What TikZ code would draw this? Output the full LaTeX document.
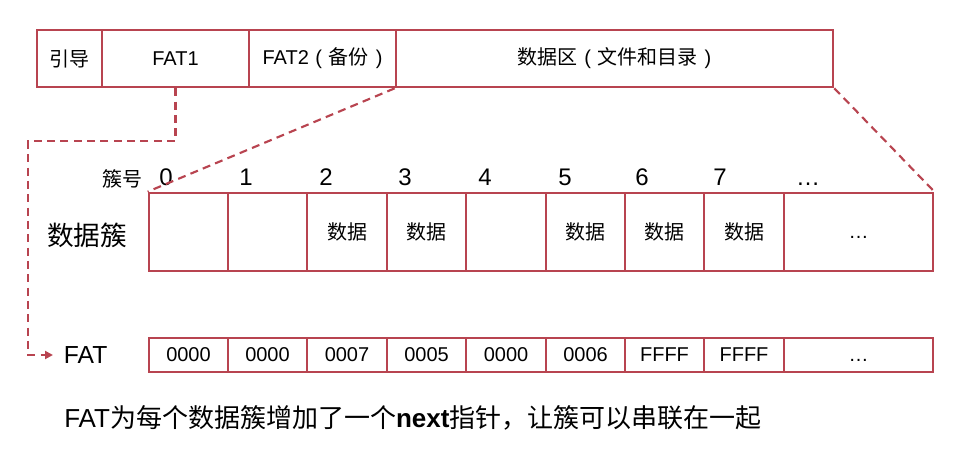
\documentclass[tikz,border=0pt]{standalone}
\usepackage{fontspec}
\setmainfont{Liberation Sans}
\newfontfamily\cjk{Noto Sans CJK SC}
\usetikzlibrary{arrows.meta}
\definecolor{fatred}{HTML}{B84450}
\newcommand{\lp}{\hspace{0.33em}(\hspace{0.34em}}
\newcommand{\rp}{\hspace{0.34em})\hspace{0.33em}}
\newcommand{\dotsx}{\vphantom{0}…}
\begin{document}
\begin{tikzpicture}[x=0.75pt,y=-0.75pt,
  cell/.style={draw=fatred, line width=2pt, inner sep=0pt, font=\fontsize{15}{18}\selectfont},
  box/.style args={#1/#2/#3/#4}{minimum width={(#2-#1)*0.75pt}, minimum height={(#4-#3)*0.75pt}, at={({(#1+#2)/2},{(#3+#4)/2})}},
  dashlink/.style={draw=fatred, line width=1.6pt, dash pattern=on 6pt off 4pt},
  num/.style={anchor=base, inner sep=0pt, font=\fontsize{18}{21}\selectfont}]
\useasboundingbox (0,0) rectangle (970,454);
% top bar
\node[cell, box=37/102/30/87] (boot) {\cjk 引导};
\node[cell, box=102/249/30/87] (fat1) {FAT1};
\node[cell, box=249/396/30/87] (fat2) {FAT2\lp{\cjk 备份}\rp};
\node[cell, box=396/833/30/87] (data) {{\cjk 数据区}\lp{\cjk 文件和目录}\rp};
% cluster numbers
\node[anchor=base, inner sep=0pt, font=\cjk\fontsize{15}{18}\selectfont] (hao) at (122,186) {簇号};
\node[num] (n0) at (166,185) {0};
\node[num] (n1) at (246,185) {1};
\node[num] (n2) at (326,185) {2};
\node[num] (n3) at (405,185) {3};
\node[num] (n4) at (485,185) {4};
\node[num] (n5) at (565,185) {5};
\node[num] (n6) at (642,185) {6};
\node[num] (n7) at (720,185) {7};
\node[num] (n8) at (808,185) {…};
% data clusters
\node[inner sep=0pt, font=\cjk\fontsize{20}{24}\selectfont] (cluslbl) at (87,235) {数据簇};
\node[cell, box=149/228/193/271] (c0) {};
\node[cell, box=228/307/193/271] (c1) {};
\node[cell, box=307/387/193/271] (c2) {\cjk 数据};
\node[cell, box=387/466/193/271] (c3) {\cjk 数据};
\node[cell, box=466/546/193/271] (c4) {};
\node[cell, box=546/625/193/271] (c5) {\cjk 数据};
\node[cell, box=625/704/193/271] (c6) {\cjk 数据};
\node[cell, box=704/784/193/271] (c7) {\cjk 数据};
\node[cell, box=784/933/193/271] (c8) {\dotsx};
% FAT row
\node[anchor=west, inner xsep=8pt, inner ysep=0pt, font=\fontsize{18.5}{22}\selectfont] (fatlbl) at (53,355) {FAT};
\node[cell, box=149/228/338/372] (f0) {0000};
\node[cell, box=228/307/338/372] (f1) {0000};
\node[cell, box=307/387/338/372] (f2) {0007};
\node[cell, box=387/466/338/372] (f3) {0005};
\node[cell, box=466/546/338/372] (f4) {0000};
\node[cell, box=546/625/338/372] (f5) {0006};
\node[cell, box=625/704/338/372] (f6) {FFFF};
\node[cell, box=704/784/338/372] (f7) {FFFF};
\node[cell, box=784/933/338/372] (f8) {\dotsx};
% note
\node[anchor=west, inner sep=0pt, font=\fontsize{19.5}{23}\selectfont] (note) at (64,418)
  {FAT{\cjk 为每个数据簇增加了一个}\textbf{next}{\cjk 指针，让簇可以串联在一起}};
% connectors
\coordinate (turn) at (28,141);
\draw[dashlink, -{Triangle[length=6pt,width=6pt]}] (fat1.south) |- (turn) |- (fatlbl.west);
\draw[dashlink] (data.south west) -- (c0.north west);
\draw[dashlink] (data.south east) -- (c8.north east);
\end{tikzpicture}
\end{document}
